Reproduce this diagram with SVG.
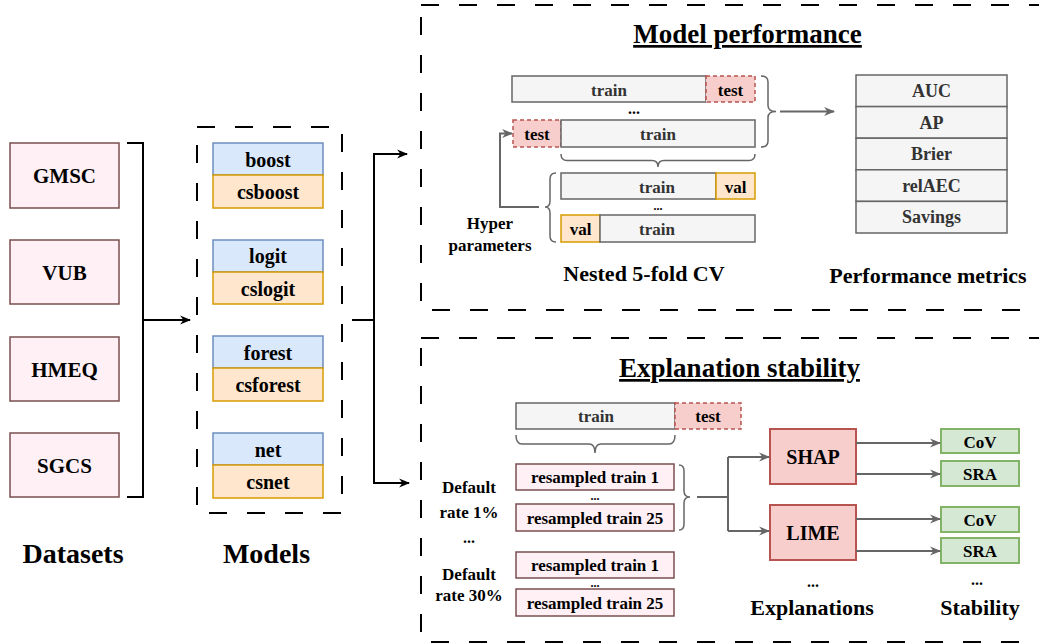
<svg xmlns="http://www.w3.org/2000/svg" width="1039" height="644" viewBox="0 0 1039 644">
<defs>
<style>
text{font-family:"Liberation Serif","Times New Roman",serif;font-weight:bold;text-anchor:middle;fill:#000}
.ds{fill:#fff0f5;stroke:#7a4f4f;stroke-width:1.5}
.blue{fill:#dae8fc;stroke:#6c8ebf;stroke-width:1.5}
.org{fill:#ffe6cc;stroke:#d79b00;stroke-width:1.5}
.gray{fill:#f5f5f5;stroke:#666;stroke-width:1.5}
.tst{fill:#f8cecc;stroke:#b85450;stroke-width:1.5;stroke-dasharray:4 3}
.red{fill:#f8cecc;stroke:#b85450;stroke-width:2}
.grn{fill:#d5e8d4;stroke:#82b366;stroke-width:2}
.dash{fill:none;stroke:#000;stroke-width:2;stroke-dasharray:18 20}
.blk{fill:none;stroke:#000;stroke-width:2}
.gl{fill:none;stroke:#666;stroke-width:2}
.br{fill:none;stroke:#666;stroke-width:1.5}
.t21{font-size:21px}
.t20{font-size:20px}
.t17{font-size:17px}
.t18{font-size:18px;fill:#333}
.tr{font-size:17px;fill:#333}
.t22{font-size:22px}
.t28{font-size:28px}
.h{font-size:27px;text-decoration:underline}
.dots{font-size:16px}
.sd{font-size:12px}
</style>
<marker id="ab" viewBox="0 0 10 10" refX="9" refY="5" markerWidth="11" markerHeight="11" markerUnits="userSpaceOnUse" orient="auto"><path d="M0,1 L10,5 L0,9 L3,5 z" fill="#000"/></marker>
<marker id="ag" viewBox="0 0 10 10" refX="9" refY="5" markerWidth="11" markerHeight="11" markerUnits="userSpaceOnUse" orient="auto"><path d="M0,1 L10,5 L0,9 L3,5 z" fill="#666"/></marker>
</defs>
<rect width="1039" height="644" fill="#fff"/>

<!-- section frames -->
<rect class="dash" x="197" y="127" width="145" height="386"/>
<rect class="dash" x="421" y="5" width="660" height="305"/>
<rect class="dash" x="421" y="338" width="660" height="304"/>

<!-- datasets -->
<g id="gmsc"><rect class="ds" x="10" y="143" width="109" height="65"/><text class="t21" x="64.5" y="183">GMSC</text></g>
<g id="vub"><rect class="ds" x="10" y="240" width="109" height="64"/><text class="t21" x="64.5" y="279.5">VUB</text></g>
<g id="hmeq"><rect class="ds" x="10" y="337" width="109" height="64"/><text class="t21" x="64.5" y="376.5">HMEQ</text></g>
<g id="sgcs"><rect class="ds" x="10" y="433" width="109" height="64"/><text class="t21" x="64.5" y="472.5">SGCS</text></g>
<text class="t28" x="73" y="563">Datasets</text>

<!-- models -->
<g id="boost"><rect class="blue" x="213" y="143" width="110" height="32"/><text class="t20" x="268" y="166.5">boost</text>
<rect class="org" x="213" y="175" width="110" height="33"/><text class="t20" x="268" y="199">csboost</text></g>
<g id="logit"><rect class="blue" x="213" y="240" width="110" height="32"/><text class="t20" x="268" y="263">logit</text>
<rect class="org" x="213" y="272" width="110" height="32"/><text class="t20" x="268" y="295.5">cslogit</text></g>
<g id="forest"><rect class="blue" x="213" y="336" width="110" height="32"/><text class="t20" x="268" y="359.5">forest</text>
<rect class="org" x="213" y="368" width="110" height="33"/><text class="t20" x="268" y="392">csforest</text></g>
<g id="net"><rect class="blue" x="213" y="433" width="110" height="32"/><text class="t20" x="268" y="456.5">net</text>
<rect class="org" x="213" y="465" width="110" height="33"/><text class="t20" x="268" y="489">csnet</text></g>
<text class="t28" x="266.5" y="563">Models</text>

<!-- model performance -->
<text class="h" x="747.5" y="43">Model performance</text>
<g id="cv">
<rect class="gray" x="512" y="76" width="194" height="26"/><rect class="tst" x="706" y="76" width="49" height="26"/>
<text class="tr" x="609" y="95.5">train</text><text class="t17" x="730.5" y="95.5">test</text>
<text class="dots" x="634" y="114">...</text>
<rect class="tst" x="513" y="120" width="48" height="27"/><rect class="gray" x="561" y="120" width="194" height="27"/>
<text class="t17" x="537" y="139.5">test</text><text class="tr" x="658" y="139.5">train</text>
<rect class="gray" x="561" y="173" width="155" height="26"/><rect class="org" x="716" y="173" width="39" height="26"/>
<text class="tr" x="657" y="192.5">train</text><text class="t17" x="735.5" y="192.5">val</text>
<text class="sd" x="658" y="210">...</text>
<rect class="org" x="561" y="215" width="39" height="27"/><rect class="gray" x="600" y="215" width="155" height="27"/>
<text class="t17" x="580.5" y="234.5">val</text><text class="tr" x="657" y="234.5">train</text>
<path class="br" d="M761,76 Q768,76 768,82 L768,105.5 Q768,111.5 776,111.5 Q768,111.5 768,117.5 L768,141 Q768,147 761,147"/>
<path class="br" d="M561,154 Q561,160.5 567,160.5 L652,160.5 Q658,160.5 658,167 Q658,160.5 664,160.5 L749,160.5 Q755,160.5 755,154"/>
<path class="br" d="M556,173 Q550,173 550,179 L550,201 Q550,207 545,207 Q550,207 550,213 L550,236 Q550,242 556,242"/>
<text class="t17" x="490" y="229">Hyper</text>
<text class="t17" x="490" y="251">parameters</text>
<text class="t22" x="644" y="281">Nested 5-fold CV</text>
</g>
<g id="metrics">
<rect class="gray" x="856" y="75" width="151" height="31.6"/>
<rect class="gray" x="856" y="106.6" width="151" height="31.6"/>
<rect class="gray" x="856" y="138.2" width="151" height="31.6"/>
<rect class="gray" x="856" y="169.8" width="151" height="31.6"/>
<rect class="gray" x="856" y="201.4" width="151" height="31.6"/>
<text class="t18" x="931.5" y="97">AUC</text>
<text class="t18" x="931.5" y="128.5">AP</text>
<text class="t18" x="931.5" y="160">Brier</text>
<text class="t18" x="931.5" y="191.5">relAEC</text>
<text class="t18" x="931.5" y="223">Savings</text>
<text class="t22" x="928" y="283">Performance metrics</text>
</g>

<!-- explanation stability -->
<text class="h" x="739.5" y="377">Explanation stability</text>
<g id="resample">
<rect class="gray" x="516" y="403" width="159" height="26"/><rect class="tst" x="675" y="403" width="66" height="26"/>
<text class="tr" x="596" y="421.5">train</text><text class="t17" x="708" y="421.5">test</text>
<path class="br" d="M516,435 Q516,444 522,444 L589,444 Q595,444 595,453 Q595,444 601,444 L669,444 Q675,444 675,435"/>
<rect class="ds" x="516" y="464" width="158" height="26"/><text class="t17" x="595" y="483">resampled train 1</text>
<text class="sd" x="595" y="500">...</text>
<rect class="ds" x="516" y="504" width="158" height="27"/><text class="t17" x="595" y="523.5">resampled train 25</text>
<rect class="ds" x="516" y="552" width="158" height="26"/><text class="t17" x="595" y="571">resampled train 1</text>
<text class="sd" x="595" y="587">...</text>
<rect class="ds" x="516" y="589" width="158" height="27"/><text class="t17" x="595" y="608.5">resampled train 25</text>
<path class="br" d="M679,465 Q684,465 684,471 L684,491 Q684,497 690,497 Q684,497 684,503 L684,524 Q684,530 679,530"/>
<text class="t17" x="469" y="493">Default</text>
<text class="t17" x="469" y="518">rate 1%</text>
<text class="dots" x="469" y="543">...</text>
<text class="t17" x="469" y="580">Default</text>
<text class="t17" x="469" y="601">rate 30%</text>
</g>
<g id="shap"><rect class="red" x="770" y="429" width="86" height="55"/><text class="t20" x="813" y="463.5">SHAP</text></g>
<g id="lime"><rect class="red" x="770" y="505" width="86" height="55"/><text class="t20" x="813" y="539.5">LIME</text></g>
<text class="dots" x="813" y="587">...</text>
<text class="t22" x="812" y="615">Explanations</text>
<g id="stab">
<rect class="grn" x="941" y="429" width="78" height="24"/><text class="t17" x="980" y="447.5">CoV</text>
<rect class="grn" x="941" y="461" width="78" height="25"/><text class="t17" x="980" y="479.5">SRA</text>
<rect class="grn" x="941" y="507" width="78" height="25"/><text class="t17" x="980" y="525.5">CoV</text>
<rect class="grn" x="941" y="538" width="78" height="25"/><text class="t17" x="980" y="556.5">SRA</text>
<text class="dots" x="977" y="585">...</text>
<text class="t22" x="980" y="615">Stability</text>
</g>

<!-- connectors -->
<g id="connectors">
<path class="blk" d="M127,143 H143 V497 H127"/>
<path class="blk" d="M143,320 H190" marker-end="url(#ab)"/>
<path class="blk" d="M352,320 H374 V154 H407" marker-end="url(#ab)"/>
<path class="blk" d="M374,320 V483 H409" marker-end="url(#ab)"/>
<path class="gl" d="M539,207 H500 V133.5 H512" marker-end="url(#ag)"/>
<path class="gl" d="M780,111.5 H834" marker-end="url(#ag)"/>
<path class="gl" d="M697,497 H728 M728,457 V531"/>
<path class="gl" d="M728,457 H769" marker-end="url(#ag)"/>
<path class="gl" d="M728,531 H769" marker-end="url(#ag)"/>
<path class="gl" d="M856,443 H940" marker-end="url(#ag)"/>
<path class="gl" d="M856,474 H940" marker-end="url(#ag)"/>
<path class="gl" d="M856,519 H940" marker-end="url(#ag)"/>
<path class="gl" d="M856,551 H940" marker-end="url(#ag)"/>
</g>
</svg>
